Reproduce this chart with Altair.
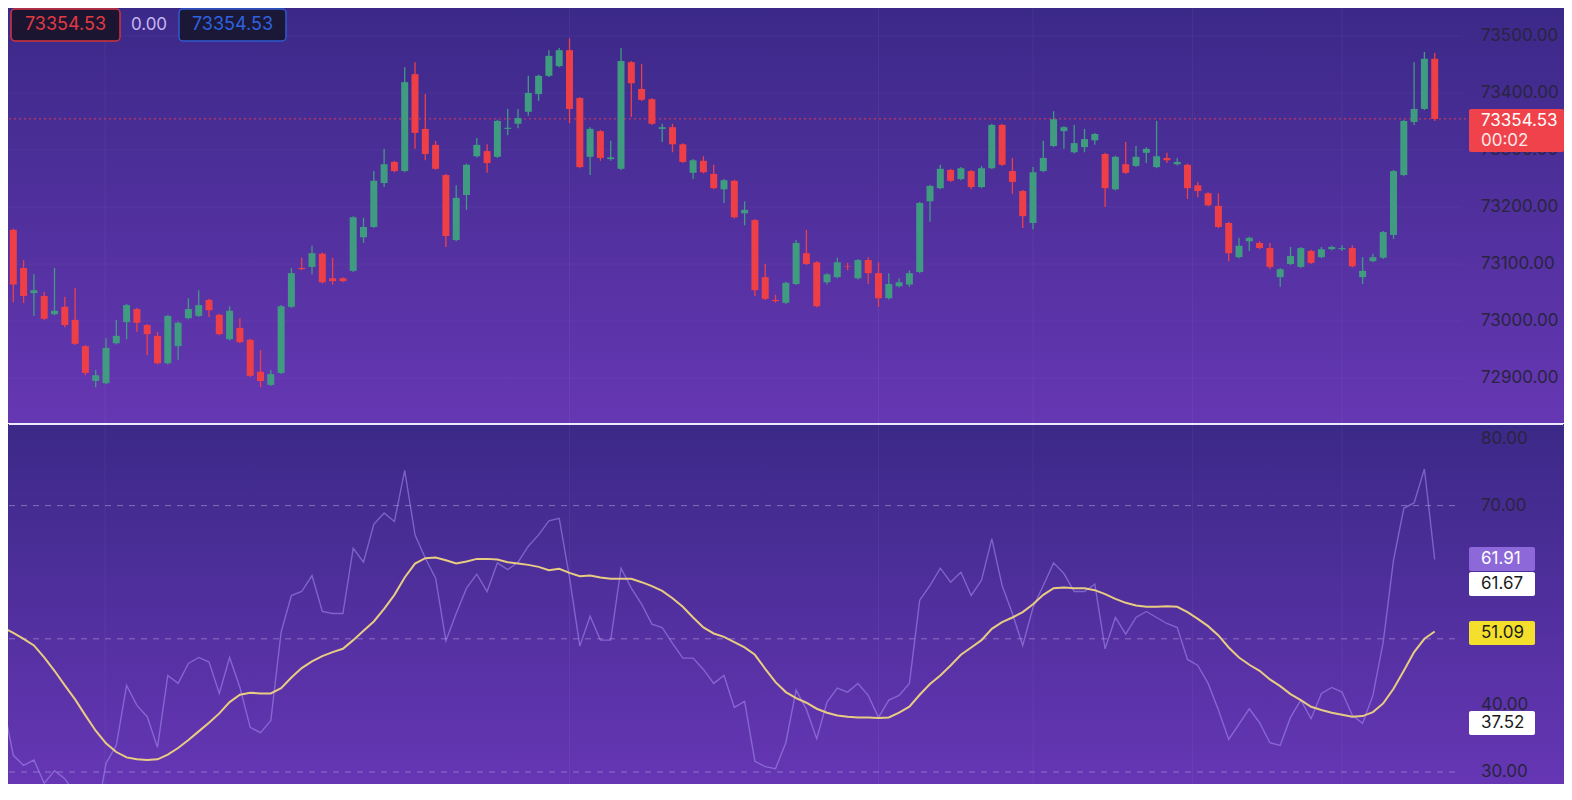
import altair as alt
import numpy as np
import pandas as pd

# ===== colours =====
GREEN = "#3f9c80"
RED = "#ef3f46"
AXIS_TXT = "#29243f"
RSI_COLOR = "#a890f0"
MA_COLOR = "#e8cc82"
FONT = "Inter"

# ===== candles (140 bars) =====
opens = [73216, 73160, 73093, 73049, 73044, 73012, 73025, 73002, 72956, 72895,
         72891, 72961, 72998, 73021, 72993, 72974, 72926, 72956, 73005, 73009,
         73037, 73011, 72968, 72988, 72967, 72911, 72888, 72909, 73025, 73093,
         73095, 73118, 73075, 73075, 73088, 73147, 73165, 73242, 73279, 73263,
         73433, 73337, 73309, 73256, 73142, 73221, 73289, 73298, 73288, 73337,
         73346, 73367, 73398, 73430, 73447, 73475, 73391, 73288, 73333, 73284,
         73267, 73454, 73407, 73389, 73337, 73340, 73310, 73260, 73281, 73258,
         73231, 73246, 73189, 73177, 73077, 73037, 73032, 73065, 73119, 73103,
         73068, 73077, 73096, 73075, 73107, 73084, 73040, 73061, 73064, 73086,
         73210, 73233, 73265, 73249, 73263, 73235, 73268, 73344, 73263, 73228,
         73172, 73263, 73307, 73333, 73296, 73305, 73317, 73293, 73231, 73275,
         73272, 73295, 73270, 73286, 73275, 73274, 73238, 73224, 73202, 73172,
         73112, 73140, 73137, 73128, 73077, 73100, 73095, 73123, 73112, 73126,
         73126, 73128, 73077, 73105, 73111, 73151, 73256, 73349, 73372, 73460]
highs = [73222, 73162, 73107, 73082, 73051, 73093, 73042, 73058, 72958, 72914,
         72970, 73002, 73030, 73023, 72995, 72981, 73011, 72999, 73040, 73054,
         73039, 73013, 73026, 73005, 72969, 72949, 72914, 73028, 73093, 73111,
         73132, 73120, 73111, 73077, 73184, 73181, 73263, 73302, 73281, 73445,
         73454, 73398, 73316, 73258, 73238, 73276, 73321, 73310, 73353, 73372,
         73372, 73430, 73432, 73475, 73479, 73496, 73393, 73340, 73335, 73316,
         73479, 73456, 73451, 73391, 73346, 73346, 73312, 73284, 73289, 73274,
         73249, 73248, 73210, 73179, 73100, 73046, 73069, 73142, 73160, 73105,
         73084, 73111, 73102, 73109, 73112, 73103, 73084, 73075, 73089, 73209,
         73239, 73274, 73267, 73270, 73265, 73272, 73346, 73346, 73286, 73230,
         73270, 73316, 73368, 73342, 73344, 73337, 73330, 73295, 73290, 73314,
         73307, 73305, 73351, 73295, 73286, 73276, 73244, 73226, 73224, 73174,
         73146, 73148, 73140, 73137, 73093, 73130, 73130, 73125, 73130, 73132,
         73133, 73133, 73112, 73118, 73158, 73265, 73353, 73454, 73472, 73470]
lows = [73155, 73033, 73032, 73009, 73002, 73010, 72989, 72958, 72905, 72884,
        72889, 72959, 72968, 72981, 72940, 72924, 72924, 72932, 73003, 73007,
        73007, 72975, 72966, 72961, 72902, 72884, 72886, 72907, 73023, 73089,
        73082, 73066, 73064, 73068, 73086, 73137, 73163, 73235, 73261, 73261,
        73302, 73282, 73265, 73130, 73140, 73195, 73287, 73260, 73286, 73326,
        73338, 73360, 73386, 73428, 73445, 73347, 73268, 73256, 73281, 73281,
        73265, 73358, 73386, 73344, 73314, 73296, 73277, 73249, 73259, 73231,
        73207, 73180, 73168, 73044, 73037, 73032, 73030, 73063, 73098, 73024,
        73064, 73075, 73089, 73073, 73065, 73025, 73038, 73059, 73060, 73084,
        73174, 73231, 73244, 73247, 73231, 73233, 73266, 73272, 73223, 73163,
        73161, 73261, 73305, 73302, 73294, 73296, 73309, 73200, 73229, 73258,
        73270, 73277, 73268, 73277, 73273, 73214, 73217, 73201, 73163, 73105,
        73110, 73123, 73126, 73091, 73060, 73098, 73093, 73100, 73110, 73124,
        73123, 73094, 73065, 73103, 73109, 73144, 73254, 73344, 73370, 73351]
closes = [73160, 73064, 73044, 73054, 73004, 73018, 72993, 72960, 72909, 72905,
          72953, 72974, 73028, 72997, 72977, 72926, 73009, 72997, 73021, 73028,
          73019, 72977, 73018, 72963, 72904, 72895, 72907, 73026, 73084, 73091,
          73119, 73068, 73070, 73070, 73182, 73165, 73246, 73275, 73263, 73419,
          73330, 73293, 73267, 73149, 73216, 73274, 73309, 73277, 73351, 73339,
          73356, 73400, 73430, 73465, 73475, 73372, 73270, 73337, 73286, 73287,
          73456, 73417, 73388, 73346, 73340, 73310, 73279, 73282, 73261, 73233,
          73247, 73182, 73195, 73054, 73039, 73035, 73067, 73137, 73100, 73026,
          73082, 73103, 73095, 73107, 73084, 73040, 73065, 73068, 73084, 73207,
          73237, 73267, 73246, 73268, 73235, 73268, 73344, 73274, 73244, 73184,
          73261, 73286, 73354, 73340, 73312, 73319, 73328, 73233, 73288, 73260,
          73288, 73302, 73289, 73282, 73279, 73233, 73228, 73203, 73165, 73119,
          73132, 73146, 73128, 73095, 73091, 73114, 73128, 73102, 73126, 73130,
          73128, 73096, 73088, 73112, 73156, 73263, 73351, 73372, 73460, 73354.53]

# ===== RSI + its moving average =====
rsi = [40.3, 32.5, 31.0, 31.8, 28.3, 30.2, 29.0, 26.8, 23.5, 22.5,
       31.3, 34.0, 43.0, 40.0, 38.3, 33.7, 44.5, 43.3, 46.3, 47.2,
       46.5, 41.8, 47.2, 42.7, 36.7, 35.9, 37.7, 51.0, 56.5, 57.1,
       59.5, 54.1, 53.8, 53.8, 63.6, 61.5, 67.2, 68.9, 67.6, 75.3,
       65.6, 62.1, 59.1, 49.7, 53.8, 57.6, 59.7, 57.1, 61.4, 60.4,
       61.5, 63.9, 65.6, 67.7, 68.1, 59.2, 48.9, 53.4, 49.8, 49.8,
       60.6, 57.6, 55.2, 52.2, 51.7, 49.3, 47.1, 47.1, 45.4, 43.3,
       44.5, 39.7, 40.6, 31.6, 30.8, 30.5, 34.4, 42.3, 39.4, 35.0,
       40.5, 42.6, 42.0, 43.3, 41.5, 38.2, 40.8, 41.5, 43.3, 55.8,
       58.0, 60.6, 58.5, 60.0, 56.5, 58.8, 65.0, 58.0, 53.8, 49.0,
       54.7, 58.0, 61.4, 59.8, 57.1, 57.1, 58.2, 48.5, 53.2, 50.7,
       53.2, 54.1, 53.2, 52.3, 51.7, 46.9, 46.0, 43.3, 39.3, 34.9,
       37.2, 39.5, 37.4, 34.4, 34.0, 38.2, 40.8, 38.0, 41.8, 42.7,
       42.0, 38.5, 37.3, 41.5, 49.5, 61.8, 69.6, 70.4, 75.5, 61.91]
rsi_ma = [51.7, 50.9, 50.0, 49.0, 47.2, 45.2, 43.0, 40.9, 38.5, 36.2,
          34.3, 33.0, 32.2, 31.9, 31.8, 31.9, 32.6, 33.6, 34.8, 36.1,
          37.4, 38.8, 40.5, 41.6, 41.9, 41.8, 41.8, 42.6, 44.2, 45.6,
          46.6, 47.4, 48.0, 48.5, 49.8, 51.2, 52.6, 54.5, 56.6, 59.2,
          61.3, 62.1, 62.2, 61.8, 61.3, 61.6, 62.0, 62.0, 61.9, 61.5,
          61.3, 61.1, 60.8, 60.3, 60.5, 59.9, 59.4, 59.5, 59.2, 59.0,
          59.0, 59.0, 58.5, 57.9, 57.2, 56.1, 54.8, 53.2, 51.7, 50.8,
          50.3, 49.5, 48.7, 47.6, 45.5, 43.5, 42.0, 41.1, 40.4, 39.5,
          38.9, 38.5, 38.3, 38.2, 38.2, 38.1, 38.2, 38.9, 39.8, 41.6,
          43.2, 44.5, 46.0, 47.6, 48.7, 49.8, 51.5, 52.5, 53.2, 54.0,
          55.2, 56.6, 57.6, 57.7, 57.6, 57.6, 57.3, 56.7, 56.0, 55.4,
          55.0, 54.8, 54.8, 54.9, 54.8, 54.0, 53.0, 51.9, 50.5, 48.7,
          47.2, 46.1, 45.2, 43.9, 42.9, 41.7, 40.8, 39.8, 39.3, 38.9,
          38.6, 38.3, 38.4, 39.0, 40.3, 42.5, 45.2, 48.0, 50.0, 51.09]

price_ticks = [72900, 73000, 73100, 73200, 73300, 73400, 73500]
rsi_ticks = [30, 40, 70, 80]          # 50 and 60 sit fully behind the value boxes
rsi_levels = [70, 50, 30]
last_price = 73354.53
countdown = "00:02"
change_txt = "0.00"
grid_idx = [9.9, 55, 85, 100, 115.5, 130]

# ===== layout (whole page must stay within 1572 x 800, margins included) =====
W = 1454        # plot area width
H_TOP = 415     # price pane height
H_ALL = 776     # both panes
RIGHT = 1556    # right edge of the background
LBL_X = 1473    # left edge of right-hand labels
BOX_X = 1461    # left edge of value boxes

x_scale = alt.Scale(domain=[0.485, 141.65], zero=False, nice=False, padding=0)
price_scale = alt.Scale(domain=[72821.2, 73549.0], range=[H_TOP, 0], zero=False, nice=False, padding=0)
rsi_scale = alt.Scale(domain=[28.2, 82.4], range=[H_ALL, H_TOP], zero=False, nice=False, padding=0)

candles = pd.DataFrame({"i": np.arange(len(opens)), "open": opens, "high": highs,
                        "low": lows, "close": closes})
candles["dir"] = np.where(candles["close"] >= candles["open"], "up", "down")
osc = pd.DataFrame({"i": np.arange(len(rsi)), "rsi": rsi, "ma": rsi_ma})

X = alt.X("i:Q", scale=x_scale, axis=None)
dir_color = alt.Color("dir:N", scale=alt.Scale(domain=["up", "down"], range=[GREEN, RED]), legend=None)
one = pd.DataFrame({"k": [0]})


def gradient(c0, c1):
    return {"gradient": "linear", "x1": 0, "x2": 0, "y1": 0, "y2": 1,
            "stops": [{"offset": 0, "color": c0}, {"offset": 1, "color": c1}]}


bg_top = alt.Chart(one).mark_rect(color=gradient("#3b2988", "#6637b3")).encode(
    x=alt.value(0), x2=alt.value(RIGHT), y=alt.value(0), y2=alt.value(H_TOP))
bg_bot = alt.Chart(one).mark_rect(color=gradient("#3b2987", "#6636b4")).encode(
    x=alt.value(0), x2=alt.value(RIGHT), y=alt.value(H_TOP + 1), y2=alt.value(H_ALL))

vgrid = alt.Chart(pd.DataFrame({"g": grid_idx})).mark_rule(
    color="#ffffff", opacity=0.05, strokeWidth=1, clip=True).encode(
    x=alt.X("g:Q", scale=x_scale, axis=None), y=alt.value(0), y2=alt.value(H_ALL))
hgrid = alt.Chart(pd.DataFrame({"v": price_ticks})).mark_rule(
    color="#ffffff", opacity=0.04, strokeWidth=1, clip=True).encode(
    y=alt.Y("v:Q", scale=price_scale, axis=None), x=alt.value(0), x2=alt.value(W))

# ===== price pane =====
wicks = alt.Chart(candles).mark_rule(strokeWidth=1.3, clip=True).encode(
    x=X, y=alt.Y("low:Q", scale=price_scale, axis=None), y2="high:Q", color=dir_color)
bodies = alt.Chart(candles).mark_bar(size=7, clip=True).encode(
    x=X, y=alt.Y("open:Q", scale=price_scale, axis=None), y2="close:Q", color=dir_color)

last_df = pd.DataFrame({"p": [last_price], "t": [f"{last_price:.2f}"], "c": [countdown]})
last_line = alt.Chart(last_df).mark_rule(color=RED, strokeDash=[2, 3], strokeWidth=1, opacity=0.9).encode(
    y=alt.Y("p:Q", scale=price_scale, axis=None), x=alt.value(1), x2=alt.value(BOX_X))

price_labels = alt.Chart(pd.DataFrame({"v": price_ticks})).mark_text(
    align="left", baseline="middle", font=FONT, fontSize=17, color=AXIS_TXT).encode(
    y=alt.Y("v:Q", scale=price_scale, axis=None), x=alt.value(LBL_X),
    text=alt.Text("v:Q", format=".2f"))

last_box = alt.Chart(last_df).mark_rect(color="#f0424a", yOffset=-10, y2Offset=33, cornerRadius=2).encode(
    y=alt.Y("p:Q", scale=price_scale, axis=None), y2="p:Q", x=alt.value(BOX_X), x2=alt.value(RIGHT))
last_txt = alt.Chart(last_df).mark_text(
    align="left", baseline="middle", font=FONT, fontSize=17, color="#ffffff", dy=2).encode(
    y=alt.Y("p:Q", scale=price_scale, axis=None), x=alt.value(LBL_X), text="t:N")
last_cd = alt.Chart(last_df).mark_text(
    align="left", baseline="middle", font=FONT, fontSize=17, color="#ffe9ea", dy=22).encode(
    y=alt.Y("p:Q", scale=price_scale, axis=None), x=alt.value(LBL_X), text="c:N")

# top-left legend chips
chip_df = pd.DataFrame({"t": [f"{last_price:.2f}"], "z": [change_txt]})
chip1 = alt.Chart(chip_df).mark_rect(fill="#1c1531", stroke="#d2343c", strokeWidth=1.5, cornerRadius=4).encode(
    x=alt.value(3), x2=alt.value(112), y=alt.value(1), y2=alt.value(33))
chip1_t = alt.Chart(chip_df).mark_text(font=FONT, fontSize=18, color="#e03a43", baseline="middle").encode(
    x=alt.value(57.5), y=alt.value(17), text="t:N")
chip_mid = alt.Chart(chip_df).mark_text(font=FONT, fontSize=17, color="#c6b7ef", baseline="middle").encode(
    x=alt.value(141), y=alt.value(17), text="z:N")
chip2 = alt.Chart(chip_df).mark_rect(fill="#1a1836", stroke="#2f5bd0", strokeWidth=1.5, cornerRadius=4).encode(
    x=alt.value(171), x2=alt.value(278), y=alt.value(1), y2=alt.value(33))
chip2_t = alt.Chart(chip_df).mark_text(font=FONT, fontSize=18, color="#2f62e0", baseline="middle").encode(
    x=alt.value(224.5), y=alt.value(17), text="t:N")

separator = alt.Chart(one).mark_rule(color="#efeaff", strokeWidth=2).encode(
    x=alt.value(1), x2=alt.value(RIGHT - 1), y=alt.value(H_TOP + 1))

# ===== RSI pane =====
levels = alt.Chart(pd.DataFrame({"v": rsi_levels})).mark_rule(
    color="#b6a6dc", opacity=0.55, strokeDash=[6, 6], strokeWidth=1).encode(
    y=alt.Y("v:Q", scale=rsi_scale, axis=None), x=alt.value(1), x2=alt.value(1452))
rsi_line = alt.Chart(osc).mark_line(color=RSI_COLOR, opacity=0.55, strokeWidth=1.4, clip=True).encode(
    x=X, y=alt.Y("rsi:Q", scale=rsi_scale, axis=None))
ma_line = alt.Chart(osc).mark_line(color=MA_COLOR, strokeWidth=2, clip=True).encode(
    x=X, y=alt.Y("ma:Q", scale=rsi_scale, axis=None))
rsi_labels = alt.Chart(pd.DataFrame({"v": rsi_ticks})).mark_text(
    align="left", baseline="middle", font=FONT, fontSize=17, color=AXIS_TXT).encode(
    y=alt.Y("v:Q", scale=rsi_scale, axis=None), x=alt.value(LBL_X),
    text=alt.Text("v:Q", format=".2f"))


def value_box(value, fill, txt_color, top, bottom, dy):
    d = pd.DataFrame({"v": [value], "t": [f"{value:.2f}"]})
    box = alt.Chart(d).mark_rect(color=fill, yOffset=top, y2Offset=bottom, cornerRadius=2).encode(
        y=alt.Y("v:Q", scale=rsi_scale, axis=None), y2="v:Q", x=alt.value(BOX_X), x2=alt.value(BOX_X + 66))
    txt = alt.Chart(d).mark_text(align="left", baseline="middle", font=FONT, fontSize=17,
                                 color=txt_color, dy=dy).encode(
        y=alt.Y("v:Q", scale=rsi_scale, axis=None), x=alt.value(LBL_X), text="t:N")
    return [box, txt]


boxes = (value_box(61.91, "#8d68d8", "#ffffff", -12.5, 11.5, 0)
         + value_box(61.67, "#ffffff", "#1b1b1b", 11, 35, 23)
         + value_box(51.09, "#f3df2c", "#1b1b1b", -10.5, 13.5, 1.5)
         + value_box(37.52, "#ffffff", "#1b1b1b", -11, 13, 1))

chart = alt.layer(
    bg_top, bg_bot, vgrid, hgrid,
    last_line, wicks, bodies, price_labels, last_box, last_txt, last_cd,
    chip1, chip1_t, chip_mid, chip2, chip2_t,
    separator, levels, rsi_line, ma_line, rsi_labels, *boxes,
).resolve_scale(y="independent").properties(
    width=W, height=H_ALL, padding=0, background="#ffffff"
).configure_view(stroke=None)

chart.save("out.html", embed_options={"renderer": "svg", "actions": False})
